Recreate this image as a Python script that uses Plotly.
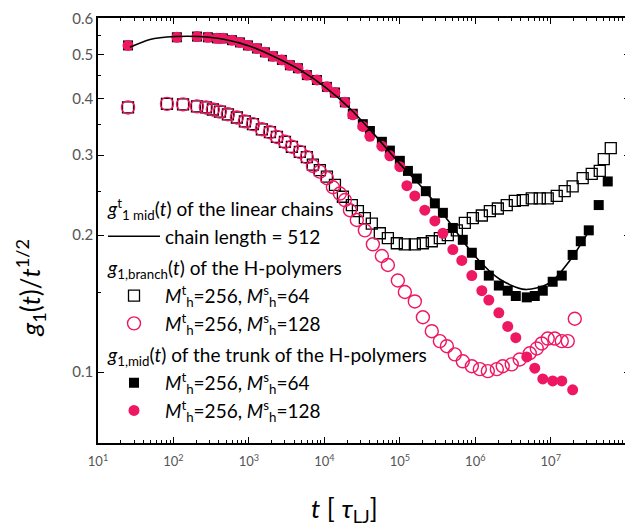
import plotly.graph_objects as go

# ---------------- data ----------------
# linear chains, chain length = 512 (black line)
t_lin = [26.5, 48.9, 105, 224, 481, 1030, 2210, 4730, 10150, 21800, 46700,
         100000, 214000, 459000, 984000, 2.11e6, 4.53e6, 9.7e6, 1.79e7, 3.19e7]
g_lin = [0.518, 0.539, 0.547, 0.547, 0.539, 0.521, 0.493, 0.462, 0.424, 0.380,
         0.332, 0.287, 0.251, 0.213, 0.180, 0.160, 0.152, 0.157, 0.176, 0.204]

# g1,branch  Mt=256, Ms=64 (open squares)
t_br64 = [25, 82, 134, 205, 269, 333, 413, 527, 693, 885, 1130, 1486, 1897, 2350,
          3000, 3715, 4730, 5860, 7040, 8710, 10800, 13800, 17600, 23100, 27800,
          34400, 42500, 54300, 69400, 91200, 116500, 158000, 202000, 265000,
          339000, 432000, 569000, 726000, 927000, 1.22e6, 1.56e6, 1.99e6,
          2.61e6, 3.34e6, 4.26e6, 5.60e6, 7.15e6, 9.12e6, 1.20e7, 1.53e7,
          1.95e7, 2.65e7, 3.49e7, 4.46e7, 5.04e7, 6.24e7]
g_br64 = [0.382, 0.389, 0.388, 0.384, 0.382, 0.378, 0.374, 0.369, 0.363, 0.356,
          0.351, 0.342, 0.337, 0.329, 0.321, 0.313, 0.305, 0.297, 0.286, 0.278,
          0.269, 0.258, 0.243, 0.233, 0.226, 0.218, 0.212, 0.202, 0.197, 0.192,
          0.191, 0.191, 0.192, 0.194, 0.197, 0.200, 0.205, 0.213, 0.218, 0.221,
          0.226, 0.229, 0.233, 0.238, 0.239, 0.241, 0.241, 0.241, 0.244, 0.250,
          0.256, 0.267, 0.273, 0.277, 0.294, 0.311]

# g1,branch  Mt=256, Ms=128 (open circles)
t_br128 = [25, 82, 134, 205, 269, 333, 413, 527, 693, 885, 1130, 1486, 1897,
           2350, 3000, 3715, 4730, 5860, 7040, 8710, 10800, 12970, 16040, 18700,
           21800, 26900, 34400, 43900, 57800, 69400, 94100, 116500, 158000,
           202000, 265000, 339000, 420000, 535000, 683000, 899000, 1.148e6,
           1.466e6, 1.928e6, 2.31e6, 3.04e6, 3.88e6, 5.27e6, 6.53e6, 7.6e6,
           9.12e6, 1.13e7, 1.40e7, 1.68e7, 2.08e7]
g_br128 = [0.382, 0.389, 0.388, 0.384, 0.382, 0.378, 0.374, 0.369, 0.363, 0.356,
           0.351, 0.342, 0.337, 0.329, 0.321, 0.313, 0.305, 0.297, 0.284, 0.276,
           0.267, 0.255, 0.247, 0.239, 0.227, 0.216, 0.205, 0.191, 0.180, 0.172,
           0.159, 0.150, 0.143, 0.132, 0.123, 0.117, 0.114, 0.1094, 0.1056,
           0.103, 0.1015, 0.1005, 0.1015, 0.103, 0.104, 0.1066, 0.110, 0.1127,
           0.1156, 0.1185, 0.1185, 0.117, 0.117, 0.131]

# g1,mid trunk  Mt=256, Ms=64 (filled squares)
t_tr64 = [25, 111, 205, 286, 377, 453, 596, 760, 971, 1277, 1630, 2080, 2735,
          3490, 4460, 5860, 7960, 10800, 13800, 18700, 23800, 32300, 40100,
          57800, 73800, 100000, 128000, 168000, 221000, 291000, 372000, 504000,
          683000, 899000, 1.148e6, 1.51e6, 2.05e6, 2.69e6, 3.44e6, 4.81e6,
          6.14e6, 7.84e6, 1.06e7, 1.40e7, 1.95e7, 2.50e7, 3.19e7, 4.32e7, 5.69e7]
g_tr64 = [0.523, 0.545, 0.547, 0.545, 0.542, 0.542, 0.537, 0.531, 0.523, 0.515,
          0.505, 0.495, 0.486, 0.473, 0.466, 0.450, 0.439, 0.424, 0.412, 0.392,
          0.370, 0.351, 0.339, 0.321, 0.307, 0.2915, 0.277, 0.2665, 0.250,
          0.235, 0.224, 0.2075, 0.1954, 0.183, 0.172, 0.163, 0.155, 0.151,
          0.147, 0.146, 0.147, 0.151, 0.158, 0.163, 0.181, 0.194, 0.205, 0.233,
          0.2626]

# g1,mid trunk  Mt=256, Ms=128 (filled circles)
t_tr128 = [25, 111, 205, 286, 377, 453, 596, 760, 971, 1277, 1630, 2080, 2735,
           3490, 4460, 5860, 7960, 10800, 13800, 18700, 23800, 32300, 40100,
           57800, 73800, 100000, 124000, 158000, 214000, 291000, 372000, 504000,
           662000, 899000, 1.22e6, 1.51e6, 2.05e6, 2.69e6, 3.44e6, 4.81e6,
           6.14e6, 7.84e6, 1.06e7, 1.40e7, 1.95e7]
g_tr128 = [0.523, 0.545, 0.547, 0.545, 0.542, 0.542, 0.537, 0.531, 0.523, 0.515,
           0.505, 0.495, 0.486, 0.473, 0.466, 0.450, 0.439, 0.424, 0.412, 0.392,
           0.368, 0.347, 0.330, 0.314, 0.299, 0.283, 0.257, 0.244, 0.227, 0.215,
           0.202, 0.186, 0.176, 0.163, 0.151, 0.144, 0.135, 0.126, 0.119, 0.108,
           0.102, 0.0966, 0.0956, 0.0956, 0.0914]

x_tick_vals = [10, 100, 1e3, 1e4, 1e5, 1e6, 1e7]
x_tick_text = ["10<sup>1</sup>", "10<sup>2</sup>", "10<sup>3</sup>", "10<sup>4</sup>",
               "10<sup>5</sup>", "10<sup>6</sup>", "10<sup>7</sup>"]
y_tick_vals = [0.1, 0.2, 0.3, 0.4, 0.5, 0.6]
y_tick_text = ["0.1", "0.2", "0.3", "0.4", "0.5", "0.6"]

PINK = "#EE1762"
FONT = "Lato"

x_minor = [k * 10 ** e for e in range(1, 8) for k in range(2, 10)]
y_minor = [0.15, 0.25, 0.35, 0.45, 0.55]

fig = go.Figure()

fig.add_trace(go.Scatter(
    x=t_br64, y=g_br64, mode="markers", name="<i>M</i><sup>t</sup><sub>h</sub>=256, <i>M</i><sup>s</sup><sub>h</sub>=64",
    marker=dict(symbol="square-open", size=11, color="black", line=dict(width=1.3)),
    legendgroup="b", legendgrouptitle_text="<i>g</i><sub>1,branch</sub>(<i>t</i>) of the H-polymers",
    legendrank=2))
fig.add_trace(go.Scatter(
    x=t_br128, y=g_br128, mode="markers", name="<i>M</i><sup>t</sup><sub>h</sub>=256, <i>M</i><sup>s</sup><sub>h</sub>=128",
    marker=dict(symbol="circle-open", size=13, color=PINK, line=dict(width=1.4)),
    legendgroup="b", legendrank=3))
fig.add_trace(go.Scatter(
    x=t_tr64, y=g_tr64, mode="markers", name="<i>M</i><sup>t</sup><sub>h</sub>=256, <i>M</i><sup>s</sup><sub>h</sub>=64",
    marker=dict(symbol="square", size=10, color="black"),
    legendgroup="c", legendgrouptitle_text="<i>g</i><sub>1,mid</sub>(<i>t</i>) of the trunk of the H-polymers",
    legendrank=4))
fig.add_trace(go.Scatter(
    x=t_tr128, y=g_tr128, mode="markers", name="<i>M</i><sup>t</sup><sub>h</sub>=256, <i>M</i><sup>s</sup><sub>h</sub>=128",
    marker=dict(symbol="circle", size=11, color=PINK),
    legendgroup="c", legendrank=5))
fig.add_trace(go.Scatter(
    x=t_lin, y=g_lin, mode="lines", name="chain length = 512",
    line=dict(color="black", width=1.6, shape="spline", smoothing=0.8),
    legendgroup="a", legendgrouptitle_text="<i>g</i><sup>t</sup><sub>1 mid</sub>(<i>t</i>) of the linear chains",
    legendrank=1))

axis_common = dict(showline=True, linecolor="black", linewidth=1.5, mirror="allticks",
                   ticks="inside", ticklen=6, tickwidth=1.2, tickcolor="black",
                   showgrid=False, zeroline=False, ticklabeloverflow="allow")

fig.update_xaxes(type="log", range=[1, 8.05], tickvals=x_tick_vals, ticktext=x_tick_text,
                 minor=dict(tickvals=x_minor, ticks="inside", ticklen=3, tickcolor="black"),
                 tickfont=dict(family=FONT, size=13, color="#555555"), ticklabelstandoff=6,
                 **axis_common)
fig.update_yaxes(type="log", range=[-1.156, -0.2212], tickvals=y_tick_vals, ticktext=y_tick_text,
                 minor=dict(tickvals=y_minor, ticks="inside", ticklen=3, tickcolor="black"),
                 tickfont=dict(family=FONT, size=15, color="#555555"),
                 **axis_common)

fig.add_annotation(text="<i>g</i><sub>1</sub>(<i>t</i>)/<i>t</i><sup>1/2</sup>",
                   xref="paper", yref="paper", x=-0.127, y=0.367, showarrow=False,
                   xanchor="center", yanchor="middle",
                   textangle=-90, font=dict(family=FONT, size=26, color="black"))
fig.add_annotation(text="<i>t</i> [ <i>τ</i><sub>LJ</sub>]",
                   xref="paper", yref="paper", x=0.463, y=-0.156, showarrow=False,
                   xanchor="center", yanchor="middle",
                   font=dict(family=FONT, size=26, color="black"))

# the page body adds an 8 px offset, so the figure is 8 px smaller and margins shifted
fig.update_layout(
    width=625, height=524,
    margin=dict(l=90, r=1, t=5, b=89),
    paper_bgcolor="white", plot_bgcolor="white",
    font=dict(family=FONT, size=19, color="black"),
    showlegend=True,
    legend=dict(x=0.0094, y=0.596, xanchor="left", yanchor="top",
                bgcolor="rgba(0,0,0,0)", traceorder="grouped", tracegroupgap=4,
                font=dict(family=FONT, size=19, color="black"),
                grouptitlefont=dict(family=FONT, size=19, color="black"),
                itemwidth=52),
)

fig.write_html("out.html")
